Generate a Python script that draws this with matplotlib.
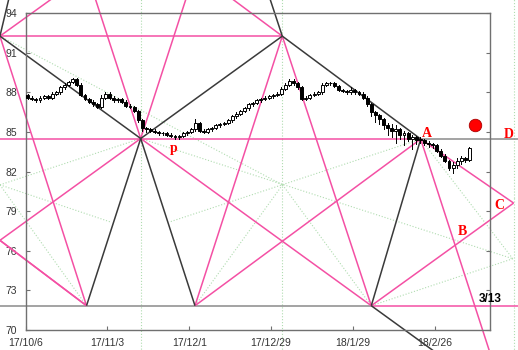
import numpy as np
import matplotlib
matplotlib.use("Agg")
import matplotlib.pyplot as plt
from matplotlib.patches import Rectangle

# ---------------- data ----------------
tick_pos = [0, 20, 40, 60, 80, 100]
tick_labels = ['17/10/6', '17/11/3', '17/12/1', '17/12/29', '18/1/29', '18/2/26']
y_ticks = [70, 73, 76, 79, 82, 85, 88, 91, 94]

closes = [87.6,87.5,87.4,87.6,87.7,87.6,87.9,88.0,88.4,88.6,
          88.8,89.0,88.6,87.8,87.5,87.3,87.1,86.9,87.6,87.9,
          87.6,87.4,87.5,87.3,87.0,86.9,86.6,85.9,85.3,85.2,
          85.1,85.0,84.9,84.9,84.8,84.7,84.6,84.7,84.9,85.0,
          85.2,85.7,85.1,85.0,85.2,85.3,85.5,85.6,85.7,85.9,
          86.2,86.4,86.6,86.8,87.1,87.2,87.4,87.5,87.6,87.7,
          87.8,87.9,88.3,88.6,88.9,88.7,88.4,87.5,87.6,87.8,
          87.9,88.0,88.6,88.7,88.7,88.5,88.2,88.1,88.0,88.2,
          88.0,87.9,87.6,87.1,86.5,86.3,86.0,85.5,85.3,85.1,
          85.2,84.8,84.9,84.5,84.6,84.4,84.4,84.2,84.1,84.0,
          83.6,83.2,82.8,82.3,82.5,82.8,83.0,82.9,83.8]
opens = [87.8,87.6,87.5,87.4,87.6,87.7,87.6,87.9,88.0,88.4,
         88.6,88.8,89.0,88.6,87.8,87.5,87.3,87.1,86.9,87.6,
         87.9,87.6,87.4,87.5,87.3,87.0,86.9,86.6,85.9,85.3,
         85.2,85.1,85.0,84.9,84.9,84.8,84.7,84.6,84.7,84.9,
         85.0,85.2,85.7,85.1,85.0,85.2,85.3,85.5,85.6,85.7,
         85.9,86.2,86.4,86.6,86.8,87.1,87.2,87.4,87.5,87.6,
         87.7,87.8,87.9,88.3,88.6,88.9,88.7,88.4,87.5,87.6,
         87.8,87.9,88.0,88.6,88.7,88.7,88.5,88.2,88.1,88.0,
         88.2,88.0,87.9,87.6,87.1,86.5,86.3,86.0,85.5,85.3,
         85.1,85.2,84.8,84.9,84.5,84.6,84.4,84.4,84.2,84.1,
         84.0,83.6,83.2,82.8,82.3,82.5,82.8,83.0,82.9]
highs = [87.9,87.7,87.6,87.7,87.8,87.8,88.0,88.1,88.5,88.7,
         88.9,89.1,89.1,88.7,87.9,87.6,87.4,87.2,87.8,88.0,
         88.0,87.7,87.6,87.6,87.4,87.1,87.0,86.7,86.0,85.4,
         85.3,85.2,85.1,85.0,85.0,84.9,84.8,84.8,85.0,85.1,
         85.3,86.0,85.8,85.2,85.3,85.4,85.6,85.7,85.8,86.0,
         86.3,86.5,86.7,86.9,87.2,87.3,87.5,87.6,87.7,87.8,
         87.9,88.0,88.4,88.7,89.0,89.0,88.8,88.5,87.7,87.9,
         88.0,88.1,88.7,88.8,88.8,88.8,88.6,88.3,88.2,88.4,
         88.3,88.1,88.0,87.7,87.2,86.6,86.4,86.1,85.7,85.6,
         85.5,85.3,85.1,85.0,84.8,84.7,84.6,84.5,84.3,84.2,
         84.1,83.7,83.3,82.9,82.7,83.0,83.2,83.1,83.9]
lows = [87.5,87.4,87.3,87.3,87.5,87.5,87.5,87.8,87.9,88.3,
        88.5,88.7,88.5,87.7,87.4,87.2,87.0,86.8,86.8,87.5,
        87.5,87.3,87.3,87.2,86.9,86.8,86.5,85.8,85.1,85.0,
        85.0,84.9,84.8,84.8,84.7,84.6,84.5,84.5,84.6,84.8,
        84.9,85.1,85.0,84.9,84.9,85.1,85.2,85.4,85.5,85.6,
        85.8,86.1,86.3,86.5,86.7,87.0,87.1,87.3,87.4,87.5,
        87.6,87.7,87.8,88.2,88.5,88.6,88.3,87.4,87.4,87.5,
        87.7,87.8,87.9,88.5,88.6,88.4,88.1,88.0,87.9,87.9,
        87.9,87.8,87.5,87.0,86.2,85.8,85.6,85.2,84.8,84.6,
        84.2,84.5,84.0,84.3,83.7,84.1,84.2,84.0,83.9,83.8,
        83.5,83.1,82.7,82.1,81.9,82.3,82.6,82.7,82.8]

# pivot points of the geometric drawing (bar index, price)
T0 = (-6.3, 92.27)
T2 = (62.74, 92.27)
M1 = (28.12, 84.51)
A = (96.58, 84.47)
B1 = (14.87, 71.84)
B2 = (41.39, 71.84)
B3 = (84.50, 71.84)
C = (119.3, 79.62)
CT = (62.8, 81.0)     # fan centres
LC = (-6.3, 81.0)
RC = (119.1, 75.4)
END1 = (35.3, 78.2)
END2 = (20.6, 78.2)
DOT = (109.85, 85.53)

PINK = '#f450a4'
DARK = '#3a3a3a'
GRAY = '#8a8a8a'
GREEN = '#b0dcb0'

# ---------------- figure ----------------
fig = plt.figure(figsize=(5.18, 3.5), dpi=100)
ax = fig.add_axes([25.7/518, 20/350, (490.3-25.7)/518, (330-13.3)/350])
ax.set_xlim(0, 113.6)
ax.set_ylim(70, 94)


def seg(p, q, color, lw=1.1, ls='-', z=2):
    ax.plot([p[0], q[0]], [p[1], q[1]], color=color, lw=lw, ls=ls,
            clip_on=False, zorder=z, solid_capstyle='butt')


def ray(p, d, color, lw=1.1, ls='-', z=2):
    d = np.asarray(d, float)
    s = 300.0 / np.hypot(d[0], d[1] * 4)
    seg(p, (p[0] + d[0] * s, p[1] + d[1] * s), color, lw, ls, z)


def sub(p, q):
    return (p[0] - q[0], p[1] - q[1])

# dotted fan lines
glw = 0.8
ray((M1[0], 84.5), (0, 1), GREEN, glw, ':', 1)
ray((M1[0], 84.5), (0, -1), GREEN, glw, ':', 1)
ray((T2[0], 84.5), (0, 1), GREEN, glw, ':', 1)
ray((T2[0], 84.5), (0, -1), GREEN, glw, ':', 1)
ray((C[0], 80), (0, 1), GREEN, glw, ':', 1)
ray((C[0], 80), (0, -1), GREEN, glw, ':', 1)
seg(M1, RC, GREEN, glw, ':', 1)
seg(A, END1, GREEN, glw, ':', 1)
seg(CT, B2, GREEN, glw, ':', 1)
seg(CT, B3, GREEN, glw, ':', 1)
seg(LC, B1, GREEN, glw, ':', 1)
seg(LC, M1, GREEN, glw, ':', 1)
seg(LC, END2, GREEN, glw, ':', 1)
seg(RC, B3, GREEN, glw, ':', 1)
seg(RC, A, GREEN, glw, ':', 1)
seg(T0, CT, GREEN, glw, ':', 1)

# horizontal levels
ray(T2, (-1, 0), PINK)
ray(A, (-1, 0), PINK)
ray(A, (1, 0), GRAY)
ray(B3, (-1, 0), GRAY)
ray(B3, (1, 0), PINK)

# pink lines
seg(T0, B1, PINK)
ray(M1, sub(M1, T2), PINK)
L0 = (T0[0], M1[1] + (T0[0] - M1[0]) * (T2[1] - M1[1]) / (T2[0] - M1[0]))
seg(L0, B1, PINK)
ray(B1, sub(L0, B1), PINK)
ray(M1, sub(M1, B2), PINK)
ray(M1, sub(M1, B1), PINK)
seg(B2, T2, PINK)
seg(T2, B3, PINK)
seg(M1, B3, PINK)
seg(B2, A, PINK)
seg(A, C, PINK)
seg(B3, C, PINK)
ray(A, (1, -0.956), PINK)
ray(T0, (1, 0.223), PINK)
ray(T2, sub(T2, A), PINK)

# dark lines
seg(T0, M1, DARK)
seg(M1, T2, DARK)
seg(T2, A, DARK)
seg(B1, M1, DARK)
seg(M1, B2, DARK)
seg(B3, A, DARK)
ray(B3, sub(B3, M1), DARK)
ray(T2, sub(T2, B3), DARK)
ray(T0, (1, 1.3), DARK)

# candlesticks
w = 0.72
for i, (o, h, l, c) in enumerate(zip(opens, highs, lows, closes)):
    ax.plot([i + 0.5, i + 0.5], [l, h], color='black', lw=0.7, zorder=5)
    lo, hi = min(o, c), max(o, c)
    hgt = max(hi - lo, 0.05)
    face = 'white' if c > o else 'black'
    ax.add_patch(Rectangle((i + 0.5 - w / 2, lo), w, hgt, facecolor=face,
                           edgecolor='black', lw=0.7, zorder=6))

# axes styling
for s in ['left', 'bottom', 'right', 'top']:
    ax.spines[s].set_color('#707070')
    ax.spines[s].set_linewidth(1.0)
    ax.spines[s].set_zorder(3)
ax.set_xticks(tick_pos)
ax.set_xticklabels(tick_labels)
ax.set_yticks(y_ticks)
ax.set_yticklabels([str(v) for v in y_ticks])
ax.tick_params(axis='both', direction='in', length=3, color='#707070',
               labelsize=7.5, labelcolor='#333333',
               right=True, labelright=False)
ax.tick_params(axis='x', pad=5.5)
ax.tick_params(axis='y', pad=6)
for lab in ax.get_xticklabels() + ax.get_yticklabels():
    lab.set_fontfamily('Liberation Sans')

# annotations
tf = dict(color='red', fontfamily='Liberation Serif', fontweight='bold',
          fontsize=10, ha='center', va='center', clip_on=False, zorder=8)
ax.text(A[0] + 1.6, A[1] + 0.45, 'A', **tf)
ax.text(118.0, 84.85, 'D', **tf)
ax.text(115.7, 79.45, 'C', **tf)
ax.text(106.8, 77.5, 'B', **tf)
ax.text(36.3, 83.75, 'p', **tf)
ax.text(113.6, 72.35, '3/13', color='black', fontfamily='Liberation Sans',
        fontweight='bold', fontsize=8.5, ha='center', va='center',
        clip_on=False, zorder=8)
ax.plot([DOT[0]], [DOT[1]], 'o', color='red', markersize=9,
        markeredgecolor='#aa0000', markeredgewidth=0.6, clip_on=False, zorder=8)

fig.savefig('out.png', dpi=100)
